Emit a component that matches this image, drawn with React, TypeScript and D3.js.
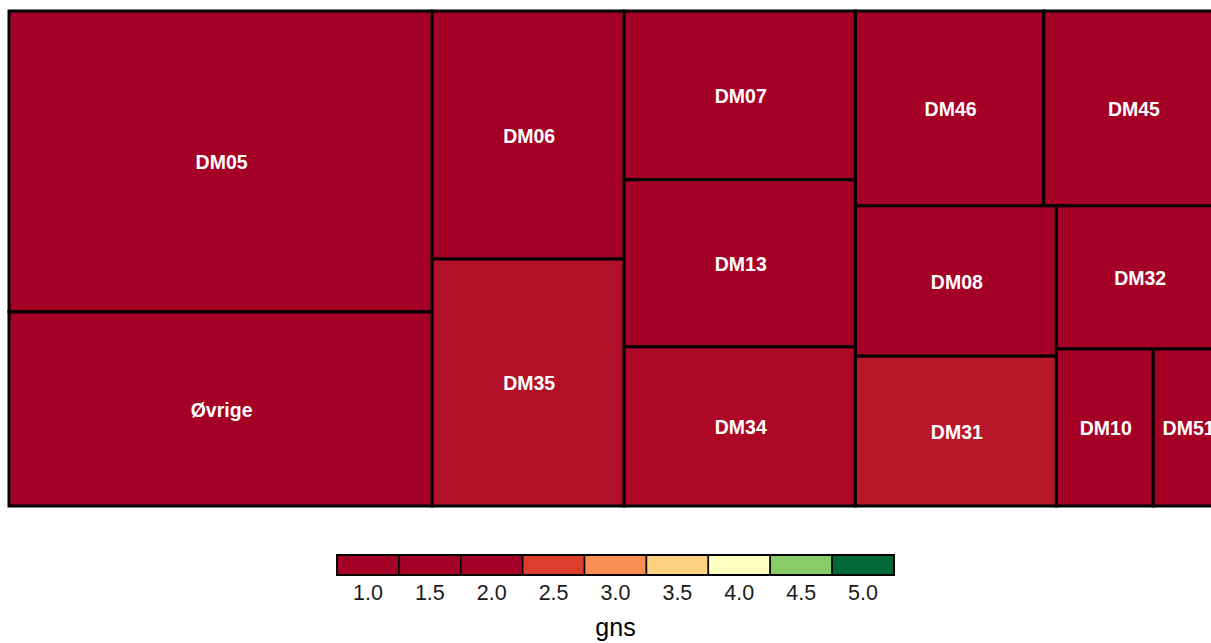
import * as d3 from 'd3';
import React, { useRef, useEffect } from 'react';

// tiles: name, size (area weight) and mean score (gns)
const names = ['DM05', 'Øvrige', 'DM06', 'DM35', 'DM07', 'DM13', 'DM34', 'DM46', 'DM45', 'DM08', 'DM31', 'DM32', 'DM10', 'DM51'];
const sizes = [1273, 821, 476, 474, 390, 386, 368, 367, 347, 302, 301, 237, 152, 108];
const gns = [1.6, 1.8, 1.7, 2.12, 1.7, 1.8, 2.07, 1.6, 1.7, 1.8, 2.18, 1.8, 1.7, 1.9];

// legend steps
const legendBreaks = [1.0, 1.5, 2.0, 2.5, 3.0, 3.5, 4.0, 4.5, 5.0];
const legendColours = ['#A50026', '#A50026', '#A50026', '#DD3D2D', '#F88E52', '#FDD17F', '#FFFFBF', '#88CB67', '#006837'];

const W = 1211;
const H = 643;

export default function App() {
  const svgRef = useRef(null);

  useEffect(() => {
    const svg = d3.select(svgRef.current);
    svg.selectAll('*').remove();

    const colour = d3.scaleLinear<string>().domain(legendBreaks).range(legendColours).clamp(true);

    const data = {
      name: 'root',
      children: names.map((n, i) => ({ name: n, size: sizes[i], gns: gns[i] })),
    };

    const root = d3
      .hierarchy<any>(data)
      .sum((d) => d.size || 0)
      .sort((a, b) => (b.value || 0) - (a.value || 0));

    d3.treemap<any>()
      .tile(d3.treemapSquarify.ratio(1.13))
      .size([1213, 495])(root);

    const panel = svg.append('g').attr('transform', 'translate(9,11)');

    const cell = panel
      .selectAll('g')
      .data(root.leaves())
      .join('g');

    cell
      .append('rect')
      .attr('x', (d: any) => d.x0)
      .attr('y', (d: any) => d.y0)
      .attr('width', (d: any) => d.x1 - d.x0)
      .attr('height', (d: any) => d.y1 - d.y0)
      .attr('fill', (d: any) => colour(d.data.gns))
      .attr('stroke', '#000')
      .attr('stroke-width', 3);

    cell
      .append('text')
      .attr('x', (d: any) => (d.x0 + d.x1) / 2 + 1)
      .attr('y', (d: any) => (d.y0 + d.y1) / 2)
      .attr('dy', '0.4em')
      .attr('text-anchor', 'middle')
      .attr('fill', '#fff')
      .attr('font-family', '"Liberation Sans", Arial, sans-serif')
      .attr('font-weight', 'bold')
      .attr('font-size', 19.5)
      .text((d: any) => d.data.name);

    // legend
    const lx = d3.scaleBand<number>().domain(legendBreaks).range([337, 894]).padding(0);
    const legend = svg.append('g');

    legend
      .selectAll('rect')
      .data(legendBreaks)
      .join('rect')
      .attr('x', (d) => lx(d) as number)
      .attr('y', 555)
      .attr('width', lx.bandwidth())
      .attr('height', 20)
      .attr('fill', (d) => colour(d))
      .attr('stroke', '#000')
      .attr('stroke-width', 1.5);

    legend
      .append('rect')
      .attr('x', 337)
      .attr('y', 555)
      .attr('width', 894 - 337)
      .attr('height', 20)
      .attr('fill', 'none')
      .attr('stroke', '#000')
      .attr('stroke-width', 2);

    legend
      .selectAll('text.tick')
      .data(legendBreaks)
      .join('text')
      .attr('class', 'tick')
      .attr('x', (d) => (lx(d) as number) + lx.bandwidth() / 2)
      .attr('y', 600)
      .attr('text-anchor', 'middle')
      .attr('fill', '#1a1a1a')
      .attr('font-family', '"Liberation Sans", Arial, sans-serif')
      .attr('font-size', 21.5)
      .text((d) => d3.format('.1f')(d));

    legend
      .append('text')
      .attr('x', 615.5)
      .attr('y', 636)
      .attr('text-anchor', 'middle')
      .attr('fill', '#000')
      .attr('font-family', '"Liberation Sans", Arial, sans-serif')
      .attr('font-size', 25)
      .text('gns');
  }, []);

  return (
    <svg
      ref={svgRef}
      width={W}
      height={H}
      style={{ position: 'absolute', left: 0, top: 0, background: '#fff' }}
    />
  );
}
